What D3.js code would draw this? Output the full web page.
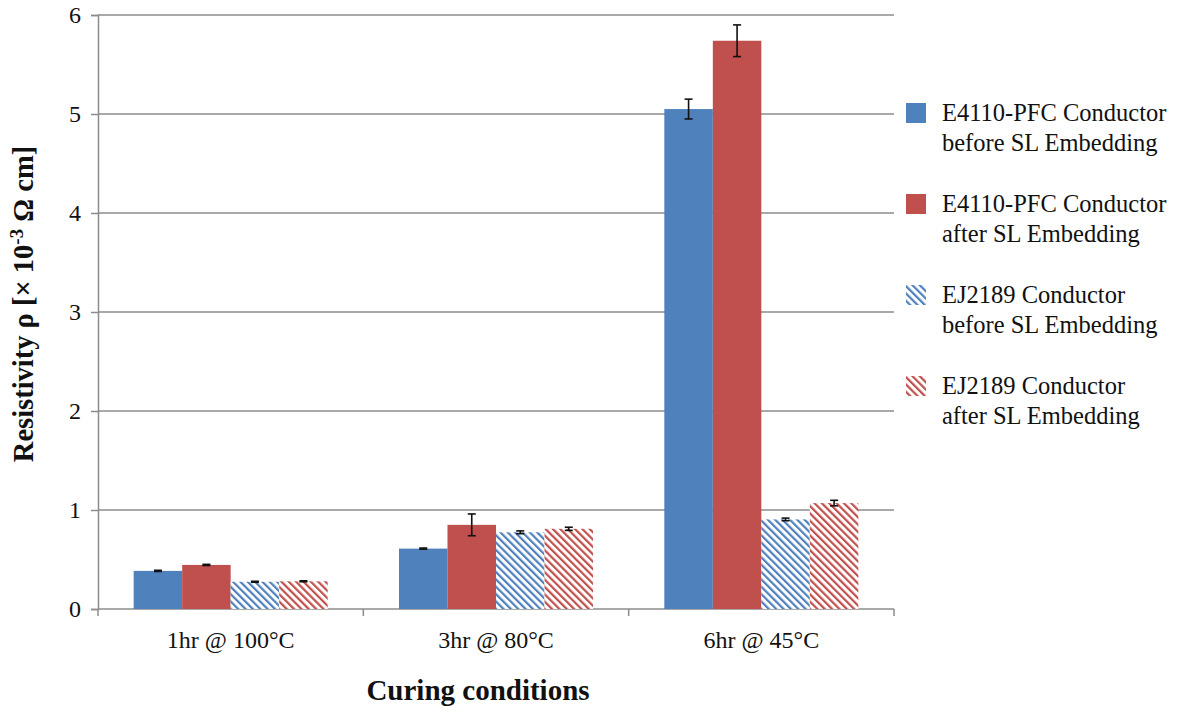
<!DOCTYPE html>
<html lang="en">
<head>
<meta charset="UTF-8" />
<title>Resistivity vs curing conditions</title>
<script src="https://cdn.jsdelivr.net/npm/d3@7"></script>
<style>
  body { margin: 0; background: #fff; }
  svg text { font-family: "Liberation Serif", "Times New Roman", serif; fill: #111; }
</style>
</head>
<body>
<svg id="chart" width="1182" height="713"></svg>
<script>
// data
const conditions = ["1hr @ 100°C", "3hr @ 80°C", "6hr @ 45°C"];
const seriesNames = [
  ["E4110-PFC Conductor", "before SL Embedding"],
  ["E4110-PFC Conductor", "after SL Embedding"],
  ["EJ2189 Conductor", "before SL Embedding"],
  ["EJ2189 Conductor", "after SL Embedding"]
];
const e4110Before = [0.385, 0.61, 5.05];
const e4110After  = [0.445, 0.85, 5.74];
const ej2189Before = [0.275, 0.775, 0.905];
const ej2189After  = [0.28, 0.81, 1.07];
const e4110BeforeErr = [0.006, 0.006, 0.10];
const e4110AfterErr  = [0.006, 0.11, 0.16];
const ej2189BeforeErr = [0.005, 0.014, 0.013];
const ej2189AfterErr  = [0.005, 0.016, 0.028];
const yTicks = [0, 1, 2, 3, 4, 5, 6];

const seriesVals = [e4110Before, e4110After, ej2189Before, ej2189After];
const seriesErr = [e4110BeforeErr, e4110AfterErr, ej2189BeforeErr, ej2189AfterErr];
const seriesKeys = ["s0", "s1", "s2", "s3"];
const blue = "#4f81bd", red = "#c0504d";
const serif = "'Liberation Serif', 'Times New Roman', serif";

const rows = [];
conditions.forEach((c, i) => {
  seriesKeys.forEach((k, j) => {
    rows.push({ cond: c, key: k, s: j, v: seriesVals[j][i], e: seriesErr[j][i] });
  });
});

const svg = d3.select("#chart");
const plotL = 98, plotR = 894, plotT = 15, plotB = 609;

// hatch patterns (diagonal "\" stripes)
const defs = svg.append("defs");
[["hatchBlue", blue], ["hatchRed", red]].forEach(([id, col]) => {
  const p = defs.append("pattern")
    .attr("id", id)
    .attr("patternUnits", "userSpaceOnUse")
    .attr("width", 5.2).attr("height", 10)
    .attr("patternTransform", "rotate(-45)");
  p.append("rect").attr("width", 5.2).attr("height", 10).attr("fill", "#fff");
  p.append("rect").attr("width", 2.2).attr("height", 10).attr("fill", col);
});
const fills = [blue, red, "url(#hatchBlue)", "url(#hatchRed)"];

const x0 = d3.scaleBand().domain(conditions).range([plotL, plotR]).paddingInner(0).paddingOuter(0);
const x1 = d3.scaleBand().domain(seriesKeys).range([0, x0.bandwidth()]).paddingOuter(0.735).paddingInner(0);
const y = d3.scaleLinear().domain([0, 6]).range([plotB, plotT]);

// gridlines
svg.append("g")
  .selectAll("line")
  .data(yTicks.filter(t => t > 0))
  .join("line")
  .attr("x1", plotL).attr("x2", plotR)
  .attr("y1", d => y(d)).attr("y2", d => y(d))
  .attr("stroke", "#8c8c8c").attr("stroke-width", 1.5);

// y axis
const yAxis = svg.append("g")
  .attr("transform", `translate(${plotL},0)`)
  .call(d3.axisLeft(y).tickValues(yTicks).tickSize(7).tickPadding(10).tickFormat(d3.format("d")));
yAxis.attr("font-family", serif);
yAxis.select(".domain").attr("stroke", "#8c8c8c").attr("stroke-width", 1.5);
yAxis.selectAll(".tick line").attr("stroke", "#8c8c8c").attr("stroke-width", 1.5);
yAxis.selectAll("text").style("font-size", "24px").attr("fill", "#111");

// x axis with ticks between categories
const xAxisG = svg.append("g").attr("transform", `translate(0,${plotB})`);
xAxisG.append("line").attr("x1", plotL).attr("x2", plotR)
  .attr("stroke", "#8c8c8c").attr("stroke-width", 1.5);
const bounds = conditions.map(c => x0(c)).concat([x0(conditions[conditions.length - 1]) + x0.bandwidth()]);
xAxisG.selectAll("line.sep").data(bounds).join("line")
  .attr("class", "sep")
  .attr("x1", d => d).attr("x2", d => d).attr("y1", 0).attr("y2", 7)
  .attr("stroke", "#8c8c8c").attr("stroke-width", 1.5);
xAxisG.selectAll("text").data(conditions).join("text")
  .attr("x", d => x0(d) + x0.bandwidth() / 2)
  .attr("y", 39)
  .attr("text-anchor", "middle")
  .style("font-size", "24px")
  .text(d => d);

// bars
const bars = svg.append("g").selectAll("g")
  .data(rows).join("g")
  .attr("transform", d => `translate(${x0(d.cond) + x1(d.key)},0)`);
bars.append("rect")
  .attr("x", 0)
  .attr("y", d => y(d.v))
  .attr("width", x1.bandwidth())
  .attr("height", d => y(0) - y(d.v))
  .attr("fill", d => fills[d.s]);

// error bars
const eb = bars.append("g").attr("stroke", "#111").attr("stroke-width", 1.6);
const cx = x1.bandwidth() / 2;
eb.append("line").attr("x1", cx).attr("x2", cx)
  .attr("y1", d => y(d.v + d.e)).attr("y2", d => y(d.v - d.e));
eb.append("line").attr("x1", cx - 4).attr("x2", cx + 4)
  .attr("y1", d => y(d.v + d.e)).attr("y2", d => y(d.v + d.e));
eb.append("line").attr("x1", cx - 4).attr("x2", cx + 4)
  .attr("y1", d => y(d.v - d.e)).attr("y2", d => y(d.v - d.e));

// axis titles
svg.append("text")
  .attr("x", 478).attr("y", 700)
  .attr("text-anchor", "middle")
  .style("font-size", "29px").style("font-weight", "bold")
  .text("Curing conditions");

const yt = svg.append("text")
  .attr("transform", "translate(33,304) rotate(-90)")
  .attr("text-anchor", "middle")
  .style("font-size", "28.5px").style("font-weight", "bold");
yt.append("tspan").text("Resistivity ρ [× 10");
yt.append("tspan").attr("dy", -10).style("font-size", "19px").text("-3");
yt.append("tspan").attr("dy", 10).text(" Ω cm]");

// legend
const legend = svg.append("g").selectAll("g")
  .data(seriesNames).join("g")
  .attr("transform", (d, i) => `translate(906,${113 + i * 91})`);
legend.append("rect")
  .attr("x", 0).attr("y", -10).attr("width", 20).attr("height", 20)
  .attr("fill", (d, i) => fills[i]);
legend.append("text")
  .attr("x", 36).attr("y", 8)
  .style("font-family", serif)
  .style("font-size", "24.5px")
  .text(d => d[0]);
legend.append("text")
  .attr("x", 36).attr("y", 38)
  .style("font-family", serif)
  .style("font-size", "24.5px")
  .text(d => d[1]);
</script>
</body>
</html>
